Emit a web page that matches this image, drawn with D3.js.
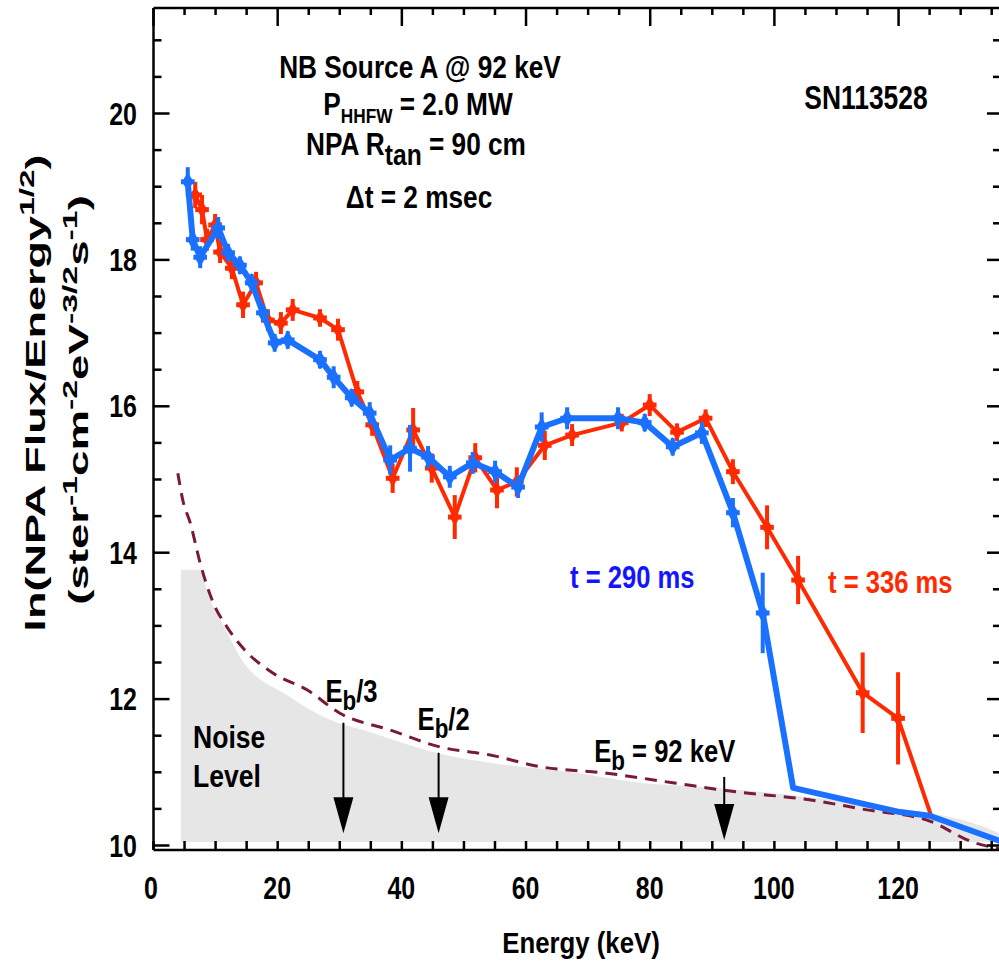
<!DOCTYPE html>
<html><head><meta charset="utf-8">
<script src="https://cdn.jsdelivr.net/npm/d3@7"></script>
<style>
body{margin:0;background:#fff}
svg{display:block}
text{font-family:"Liberation Sans",Arial,Helvetica,sans-serif;font-weight:bold}
</style>
</head><body>
<svg id="c" width="999" height="964"></svg>
<script>
// ---- data ----
const blueE = [5.6, 6.4, 7.6, 10.5, 12.1, 14.0, 15.9, 17.7, 19.6, 21.7, 26.9, 29.1, 32.0, 34.9, 38.2, 41.4, 44.3, 47.8, 51.5, 55.1, 58.8, 62.6, 66.7, 74.9, 79.2, 83.7, 88.4, 93.4, 98.2, 103.1, 120.3, 125.1, 136.9];
const blueV = [19.06, 18.27, 18.03, 18.43, 18.09, 17.92, 17.68, 17.27, 16.86, 16.90, 16.63, 16.39, 16.11, 15.90, 15.26, 15.42, 15.30, 15.03, 15.22, 15.10, 14.89, 15.71, 15.83, 15.83, 15.77, 15.44, 15.63, 14.54, 13.17, 10.78, 10.45, 10.40, 10.04];
const blueErr = [0.2, 0.15, 0.15, 0.15, 0.12, 0.12, 0.12, 0.12, 0.12, 0.12, 0.12, 0.15, 0.12, 0.15, 0.2, 0.32, 0.15, 0.15, 0.15, 0.15, 0.15, 0.2, 0.15, 0.15, 0.12, 0.12, 0.15, 0.2, 0.55, 0, 0, 0, 0];

const redE = [6.8, 7.9, 8.7, 10.0, 10.8, 12.7, 14.5, 16.6, 18.5, 20.6, 22.5, 26.9, 29.8, 32.9, 35.3, 38.6, 41.9, 44.9, 48.6, 51.9, 55.4, 58.6, 63.1, 67.5, 75.5, 80.0, 84.4, 89.0, 93.4, 98.9, 103.9, 114.3, 120.0, 125.4];
const redV = [18.88, 18.68, 18.27, 18.47, 18.10, 17.88, 17.38, 17.68, 17.17, 17.13, 17.31, 17.20, 17.04, 16.19, 15.74, 15.01, 15.67, 15.15, 14.48, 15.29, 14.85, 14.96, 15.46, 15.60, 15.77, 16.01, 15.64, 15.83, 15.10, 14.34, 13.62, 12.08, 11.73, 10.38];
const redErr = [0.18, 0.2, 0.15, 0.15, 0.15, 0.15, 0.18, 0.15, 0.15, 0.15, 0.15, 0.12, 0.15, 0.15, 0.15, 0.2, 0.3, 0.2, 0.3, 0.2, 0.25, 0.2, 0.2, 0.15, 0.12, 0.15, 0.12, 0.12, 0.17, 0.3, 0.33, 0.55, 0.63, 0];

const noiseE = [4.5, 7.4, 9.2, 11.6, 14.0, 22.1, 28.0, 35.4, 45.1, 57.0, 67.1, 78.4, 89.2, 105.3, 121.4, 132.0, 136.9];
const noiseV = [13.76, 13.76, 13.35, 12.96, 12.57, 12.02, 11.73, 11.53, 11.27, 11.09, 11.00, 10.85, 10.79, 10.66, 10.48, 10.30, 10.14];
const noiseFloor = 10.04;

const dashE = [4.0, 4.8, 6.0, 7.6, 9.7, 11.9, 14.5, 19.3, 24.8, 30.1, 38.2, 46.2, 54.3, 62.3, 73.1, 83.7, 94.5, 104.7, 115, 125, 132, 136.9];
const dashV = [15.08, 14.71, 14.40, 13.85, 13.31, 12.98, 12.69, 12.35, 12.12, 11.80, 11.57, 11.34, 11.23, 11.07, 10.98, 10.85, 10.72, 10.63, 10.48, 10.33, 10.04, 9.94];

const arrowE = [92/3, 46, 92];
const arrowTop = [11.67, 11.26, 10.93];
const arrowTip = [10.16, 10.16, 10.07];

const xMajor = [0, 20, 40, 60, 80, 100, 120];
const xMinor = d3.range(0, 140, 5);
const yMajor = [10, 12, 14, 16, 18, 20];
const yMinor = d3.range(10, 21.5, 0.5);

// ---- scales ----
const svg = d3.select("#c");
const x = d3.scaleLinear().domain([0, 136.9]).range([153, 1003]);
const y = d3.scaleLinear().domain([10, 20]).range([845, 113]);
const yBot = 850, yTop = 8, xL = 153.5, xR = 1003;

// text helper (condensed)
function rich(parent, parts, px, py, o) {
  o = o || {};
  const g = parent.append("g").attr("transform", `translate(${px},${py}) ${o.rot ? "rotate(" + o.rot + ")" : ""} scale(${o.sx || 0.8},${o.sy || 1})`);
  const t = g.append("text").attr("text-anchor", o.anchor || "start")
    .attr("fill", o.fill || "#000").style("font-size", (o.size || 32) + "px");
  if (typeof parts === "string") { t.text(parts); return t; }
  parts.forEach(p => {
    const ts = t.append("tspan").text(p.t);
    if (p.size) ts.style("font-size", p.size + "px");
    if (p.dy) ts.attr("dy", p.dy);
  });
  return t;
}

// ---- noise area ----
const noiseData = noiseE.map((e, i) => [e, noiseV[i]]);
svg.append("path").datum(noiseData)
  .attr("d", d3.area().x(d => x(d[0])).y0(y(noiseFloor)).y1(d => y(d[1])).curve(d3.curveMonotoneX))
  .attr("fill", "#e6e6e6");

// ---- dashed noise line ----
svg.append("path").datum(dashE.map((e, i) => [e, dashV[i]]))
  .attr("d", d3.line().x(d => x(d[0])).y(d => y(d[1])).curve(d3.curveMonotoneX))
  .attr("fill", "none").attr("stroke", "#7a1a3a").attr("stroke-width", 3)
  .attr("stroke-dasharray", "12,8");

// ---- arrows ----
arrowE.forEach((e, i) => {
  const ax = x(e), yt = y(arrowTop[i]), yp = y(arrowTip[i]);
  svg.append("line").attr("x1", ax).attr("x2", ax).attr("y1", yt).attr("y2", yp - 30)
    .attr("stroke", "#000").attr("stroke-width", 2);
  svg.append("path").attr("d", `M${ax - 10},${yp - 36} L${ax + 10},${yp - 36} L${ax},${yp} Z`).attr("fill", "#000");
});

// ---- arrow labels & noise label ----
rich(svg, [{t: "E"}, {t: "b", size: 28, dy: 8}, {t: "/3", dy: -8}], x(92/3) - 18, y(11.95), {sx: 0.8});
rich(svg, [{t: "E"}, {t: "b", size: 28, dy: 8}, {t: "/2", dy: -8}], x(46) - 21, y(11.57), {sx: 0.8});
rich(svg, [{t: "E"}, {t: "b", size: 28, dy: 8}, {t: " = 92 keV", dy: -8}], x(92) - 130, y(11.13), {sx: 0.8});
rich(svg, "Noise", 193, 748, {sx: 0.83});
rich(svg, "Level", 193, 787, {sx: 0.83});

// ---- series ----
function series(E, V, Err, color, lw, mk) {
  const pts = E.map((e, i) => ({e, v: V[i], err: Err[i]}));
  svg.append("path").datum(pts)
    .attr("d", d3.line().x(d => x(d.e)).y(d => y(d.v)))
    .attr("fill", "none").attr("stroke", color).attr("stroke-width", lw).attr("stroke-linejoin", "round");
  const m = pts.filter(d => d.err > 0);
  svg.append("g").selectAll("line.v").data(m).join("line")
    .attr("x1", d => x(d.e)).attr("x2", d => x(d.e))
    .attr("y1", d => y(d.v - d.err)).attr("y2", d => y(d.v + d.err))
    .attr("stroke", color).attr("stroke-width", 4);
  svg.append("g").selectAll("line.h").data(m).join("line")
    .attr("x1", d => x(d.e - 1.1)).attr("x2", d => x(d.e + 1.1))
    .attr("y1", d => y(d.v)).attr("y2", d => y(d.v))
    .attr("stroke", color).attr("stroke-width", 5);
  svg.append("g").selectAll("path").data(m).join("path")
    .attr("transform", d => `translate(${x(d.e)},${y(d.v)})`)
    .attr("d", d3.symbol().type(d3.symbolDiamond).size(mk))
    .attr("fill", color);
}
series(redE, redV, redErr, "#ff2a00", 4, 90);
series(blueE, blueV, blueErr, "#1a70ff", 6, 110);

// ---- frame & axes ----
const ax = svg.append("g").attr("stroke", "#000");
ax.append("line").attr("x1", xL).attr("x2", xL).attr("y1", yTop).attr("y2", yBot).attr("stroke-width", 2.5);
ax.append("line").attr("x1", xL).attr("x2", xR).attr("y1", yBot).attr("y2", yBot).attr("stroke-width", 2.5);
ax.append("line").attr("x1", xL).attr("x2", xR).attr("y1", yTop).attr("y2", yTop).attr("stroke-width", 2.5);
ax.append("line").attr("x1", xR).attr("x2", xR).attr("y1", yTop).attr("y2", yBot).attr("stroke-width", 2.5);

function tickAxis(axisFn, scale, vals, size, transform) {
  const g = svg.append("g").attr("transform", transform)
    .call(axisFn(scale).tickValues(vals).tickSize(size).tickSizeOuter(0).tickFormat(""));
  g.select(".domain").remove();
  g.selectAll(".tick line").attr("stroke", "#000").attr("stroke-width", 2.5);
}
const yMinorOnly = yMinor.filter(v => !yMajor.includes(v));
const xMinorOnly = xMinor.filter(v => !xMajor.includes(v));
tickAxis(d3.axisBottom, x, xMinor, -9, `translate(0,${yBot})`);
tickAxis(d3.axisTop, x, xMinorOnly, -7, `translate(0,${yTop})`);
tickAxis(d3.axisTop, x, xMajor, -18, `translate(0,${yTop})`);
tickAxis(d3.axisLeft, y, yMinorOnly, -8, `translate(${xL},0)`);
tickAxis(d3.axisLeft, y, yMajor, -16, `translate(${xL},0)`);
tickAxis(d3.axisRight, y, yMinorOnly, -10, `translate(${xR},0)`);
tickAxis(d3.axisRight, y, yMajor, -16, `translate(${xR},0)`);

// tick labels
xMajor.forEach(v => rich(svg, String(v), x(v) - (v === 0 ? 2 : 0), 899, {anchor: "middle", size: 32, sx: 0.78}));
yMajor.forEach(v => rich(svg, String(v), 137, y(v) + 11.5, {anchor: "end", size: 32, sx: 0.78}));

// axis titles
rich(svg, "Energy (keV)", 581, 953, {anchor: "middle", size: 30, sx: 0.86});
rich(svg, [{t: "ln(NPA Flux/Energy"}, {t: "1/2", size: 20, dy: -11}, {t: ")", dy: 11}], 45, 393,
  {anchor: "middle", size: 27, rot: -90, sx: 1.67});
rich(svg, [{t: "(ster"}, {t: "-1", size: 20, dy: -11}, {t: "cm", dy: 11}, {t: "-2", size: 20, dy: -11},
  {t: "eV", dy: 11}, {t: "-3/2", size: 20, dy: -11}, {t: "s", dy: 11}, {t: "-1", size: 20, dy: -11}, {t: ")", dy: 11}],
  88, 400, {anchor: "middle", size: 27, rot: -90, sx: 1.69});

// annotations
rich(svg, "NB Source A @ 92 keV", 420, 78, {anchor: "middle", sx: 0.82});
rich(svg, [{t: "P"}, {t: "HHFW", size: 21, dy: 8}, {t: " = 2.0 MW", dy: -8}], 418, 115, {anchor: "middle", sx: 0.82});
rich(svg, [{t: "NPA R"}, {t: "tan", size: 30, dy: 10}, {t: " = 90 cm", dy: -10}], 416, 155, {anchor: "middle", sx: 0.82});
rich(svg, "\u0394t = 2 msec", 419, 208, {anchor: "middle", sx: 0.82});
rich(svg, "SN113528", 866, 109, {anchor: "middle", size: 33, sx: 0.8});

// legends
rich(svg, "t = 290 ms", 570, 588, {size: 32, sx: 0.8, fill: "#1414ff"});
rich(svg, "t = 336 ms", 828, 593, {size: 32, sx: 0.8, fill: "#ff2a00"});
</script>
</body></html>
